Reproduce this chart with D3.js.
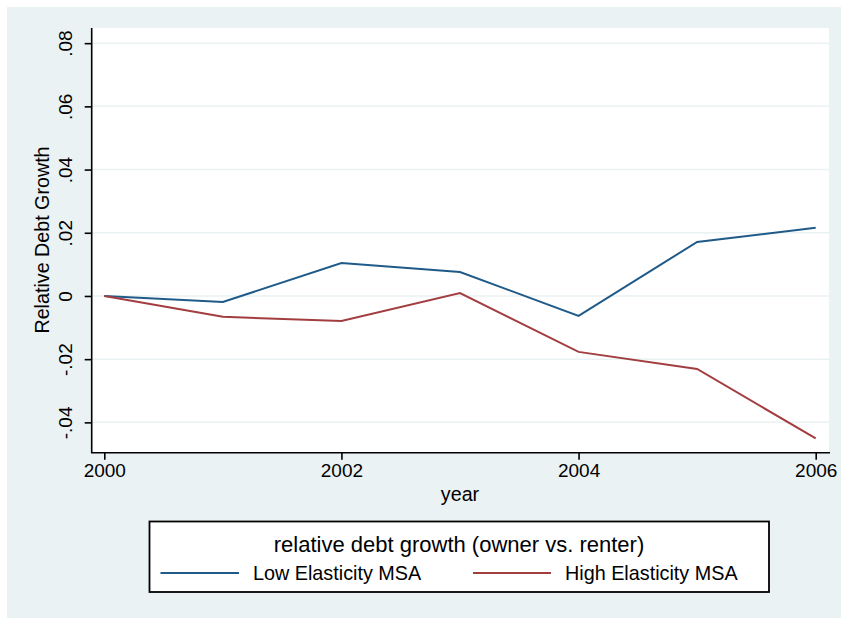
<!DOCTYPE html>
<html>
<head>
<meta charset="utf-8">
<script src="https://cdn.jsdelivr.net/npm/d3@7"></script>
<style>
  body { margin: 0; background: #ffffff; }
  text { font-family: "Liberation Sans", Arial, sans-serif; fill: #000; }
</style>
</head>
<body>
<div id="main"></div>
<script>
const years = [2000, 2001, 2002, 2003, 2004, 2005, 2006];
const lowElasticity = [0, -0.0019, 0.0104, 0.0076, -0.0063, 0.0171, 0.0216];
const highElasticity = [0, -0.0066, -0.0079, 0.0009, -0.0177, -0.0231, -0.0451];
const seriesNames = ["Low Elasticity MSA", "High Elasticity MSA"];
const yTicks = [-0.04, -0.02, 0, 0.02, 0.04, 0.06, 0.08];
const yTickLabels = ["-.04", "-.02", "0", ".02", ".04", ".06", ".08"];
const xTicks = [2000, 2002, 2004, 2006];

class GraficoLinhas {
  constructor(config) {
    this.config = config;
    this.svg = d3.select(config.div)
      .append("svg")
      .attr("width", config.width)
      .attr("height", config.height);
  }

  createScales() {
    this.x = d3.scaleLinear().domain([2000, 2006]).range([104.3, 815.7]);
    this.y = d3.scaleLinear().domain([-0.0496, 0.0848]).range([452.7, 28]);
  }

  drawBackground() {
    const c = this.config;
    this.svg.append("rect")
      .attr("x", 7).attr("y", 7)
      .attr("width", c.width - 7).attr("height", c.height - 7)
      .attr("fill", "#eaf2f3");

    // plot region
    this.svg.append("rect")
      .attr("x", 91.7).attr("y", 28)
      .attr("width", 829 - 91.7).attr("height", 452.7 - 28)
      .attr("fill", "#ffffff");

    // grid
    this.svg.append("g")
      .selectAll("line")
      .data(yTicks)
      .join("line")
        .attr("x1", 92).attr("x2", 829)
        .attr("y1", d => this.y(d)).attr("y2", d => this.y(d))
        .attr("stroke", "#eaf2f3")
        .attr("stroke-width", 1.5);
  }

  createAxis() {
    const yAxis = d3.axisLeft(this.y)
      .tickValues(yTicks)
      .tickSize(7)
      .tickFormat((d, i) => yTickLabels[i]);

    const gy = this.svg.append("g")
      .attr("transform", "translate(91.7,0)")
      .call(yAxis);
    gy.select(".domain")
      .attr("d", `M0,${this.y.range()[1]}V${this.y.range()[0]}`)
      .attr("stroke-width", 1.6);
    gy.selectAll(".tick line").attr("stroke-width", 1.6);
    gy.selectAll(".tick text")
      .attr("transform", "rotate(-90)")
      .attr("x", 0).attr("y", -19.5)
      .attr("dy", null)
      .attr("text-anchor", "middle")
      .style("font-size", "19px");

    const xAxis = d3.axisBottom(this.x)
      .tickValues(xTicks)
      .tickSize(7)
      .tickFormat(d3.format("d"));

    const gx = this.svg.append("g")
      .attr("transform", "translate(0,452.7)")
      .call(xAxis);
    gx.select(".domain")
      .attr("d", "M91,0H830")
      .attr("stroke-width", 1.6);
    gx.selectAll(".tick line").attr("stroke-width", 1.6);
    gx.selectAll(".tick text")
      .attr("y", 24.3)
      .attr("dy", null)
      .style("font-size", "19px");

    this.svg.append("text")
      .attr("x", 460).attr("y", 501)
      .attr("text-anchor", "middle")
      .style("font-size", "19.7px")
      .text("year");

    this.svg.append("text")
      .attr("transform", "translate(49,240) rotate(-90)")
      .attr("text-anchor", "middle")
      .style("font-size", "19.7px")
      .text("Relative Debt Growth");
  }

  drawLines() {
    const line = d3.line()
      .x((d, i) => this.x(years[i]))
      .y(d => this.y(d));

    [[lowElasticity, "#1f5a88"], [highElasticity, "#a33e40"]].forEach(([vals, col]) => {
      this.svg.append("path")
        .datum(vals)
        .attr("d", line)
        .attr("fill", "none")
        .attr("stroke", col)
        .attr("stroke-width", 2);
    });
  }

  drawLegend() {
    const g = this.svg.append("g");
    g.append("rect")
      .attr("x", 149.5).attr("y", 521.5)
      .attr("width", 769 - 149.5).attr("height", 592 - 521.5)
      .attr("fill", "#ffffff")
      .attr("stroke", "#000")
      .attr("stroke-width", 1.8);

    g.append("text")
      .attr("x", 459).attr("y", 551.5)
      .attr("text-anchor", "middle")
      .style("font-size", "22px")
      .text("relative debt growth (owner vs. renter)");

    const items = [
      {name: seriesNames[0], col: "#1f5a88", x1: 160.5, x2: 239, tx: 253},
      {name: seriesNames[1], col: "#a33e40", x1: 473, x2: 551, tx: 565}
    ];
    items.forEach(it => {
      g.append("line")
        .attr("x1", it.x1).attr("x2", it.x2)
        .attr("y1", 573).attr("y2", 573)
        .attr("stroke", it.col)
        .attr("stroke-width", 2);
      g.append("text")
        .attr("x", it.tx).attr("y", 580)
        .style("font-size", "19.8px")
        .text(it.name);
    });
  }
}

function main() {
  let c = {div: "#main", width: 841, height: 618};
  let a = new GraficoLinhas(c);
  a.createScales();
  a.drawBackground();
  a.createAxis();
  a.drawLines();
  a.drawLegend();
}

main();
</script>
</body>
</html>
